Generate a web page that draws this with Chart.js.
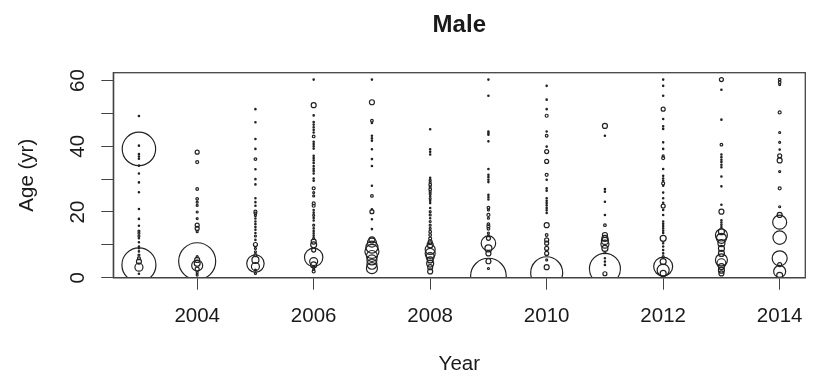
<!DOCTYPE html>
<html>
<head>
<meta charset="utf-8">
<script src="https://cdn.jsdelivr.net/npm/chart.js@4"></script>
<style>
  html, body { margin: 0; padding: 0; background: #fff; }
  #wrap { width: 825px; height: 377px; }
</style>
</head>
<body>
<div id="wrap"><canvas id="c" width="825" height="377"></canvas></div>
<script>
// Sampling years (one column of bubbles per year)
const years = [2003, 2004, 2005, 2006, 2007, 2008, 2009, 2010, 2011, 2012, 2013, 2014];

// Ages (yr) observed in each year, one row per year
const ageByYear = [
  [49.2, 40.2, 37.6, 36.9, 36.2, 39.2, 34.1, 31.7, 29.0, 26.0, 20.9, 17.9, 15.8, 14.2, 13.5, 12.7, 12.0, 10.8, 9.5, 9.0, 8.0, 6.9, 5.9, 4.9, 3.9, 3.2, 1.2],
  [38.2, 35.2, 27.0, 24.0, 23.0, 22.0, 20.0, 18.0, 16.0, 15.0, 14.0, 6.4, 5.0, 5.4, 4.4, 3.7, 2.6, 1.5, 0.8],
  [51.3, 47.3, 42.2, 39.2, 36.1, 33.0, 30.0, 28.4, 24.2, 23.0, 21.9, 20.1, 19.6, 18.9, 18.0, 17.1, 16.3, 15.4, 14.6, 13.6, 12.7, 11.5, 10.1, 8.9, 7.9, 6.9, 5.4, 4.3, 3.4, 2.3, 1.3],
  [60.3, 52.5, 49.4, 47.4, 46.6, 45.8, 45.0, 44.2, 43.0, 41.4, 40.7, 40.0, 39.3, 37.1, 36.4, 35.7, 34.9, 34.0, 33.2, 32.5, 31.7, 30.2, 29.5, 27.2, 25.9, 24.9, 22.6, 21.9, 20.6, 19.8, 19.0, 18.2, 17.4, 16.0, 15.0, 14.2, 13.5, 12.8, 12.0, 11.0, 10.0, 8.4, 6.2, 4.9, 3.9, 2.6, 1.9],
  [60.3, 53.4, 47.8, 47.1, 43.2, 42.4, 41.7, 39.1, 36.1, 34.0, 28.0, 24.9, 20.8, 20.1, 17.8, 14.8, 11.5, 10.7, 9.3, 8.0, 6.6, 5.4, 4.1, 2.9],
  [45.2, 39.1, 38.3, 37.5, 30.4, 29.7, 29.0, 28.3, 27.6, 26.9, 26.2, 25.5, 24.8, 24.1, 23.4, 22.7, 21.2, 20.1, 19.1, 18.1, 17.1, 16.0, 15.0, 14.0, 13.0, 11.9, 10.9, 10.0, 8.6, 7.4, 6.4, 5.4, 4.3, 3.2, 1.9],
  [60.3, 55.4, 44.5, 44.0, 43.5, 41.5, 33.1, 31.3, 30.6, 29.8, 29.1, 25.2, 24.5, 23.8, 21.3, 20.6, 19.1, 18.1, 16.3, 15.6, 14.9, 13.6, 12.8, 12.0, 10.5, 8.9, 7.4, 5.0, 2.8, 0.5],
  [58.4, 54.2, 51.3, 49.3, 44.5, 43.2, 39.9, 38.4, 35.4, 31.3, 29.8, 27.2, 26.5, 24.2, 23.4, 22.7, 22.0, 21.2, 20.5, 19.7, 16.0, 13.0, 11.5, 10.5, 8.9, 7.4, 5.4, 3.2, 1.5],
  [46.2, 43.2, 27.0, 26.2, 23.1, 19.1, 16.0, 13.0, 12.0, 11.2, 10.2, 8.9, 7.6, 5.9, 4.9, 3.9, 2.7, 1.2],
  [60.3, 58.4, 55.4, 51.3, 48.3, 46.1, 45.3, 41.2, 39.2, 37.1, 36.4, 33.1, 31.0, 30.2, 29.5, 28.7, 28.0, 25.9, 24.2, 22.8, 21.8, 20.6, 19.1, 17.1, 16.4, 15.7, 15.0, 14.3, 13.6, 12.0, 10.5, 9.5, 8.4, 7.4, 6.4, 4.9, 3.4, 2.3, 1.3],
  [60.3, 57.2, 48.1, 40.5, 37.5, 36.7, 35.9, 35.2, 34.4, 33.6, 30.8, 27.8, 22.2, 20.1, 17.5, 16.8, 16.1, 15.4, 14.0, 13.0, 12.0, 10.5, 8.9, 7.4, 5.4, 4.4, 3.4, 2.3, 1.3],
  [60.3, 59.5, 58.8, 50.3, 44.2, 41.2, 39.0, 37.1, 35.7, 32.3, 27.2, 21.6, 19.1, 16.9, 12.2, 5.9, 4.0, 1.9, 0.7]
];

// Number of fish at each age, same layout as ageByYear
const countByYear = [
  [2, 2, 2, 2, 2, 1116, 2, 2, 2, 2, 2, 2, 2, 4, 4, 4, 2, 2, 2, 2, 2, 4, 9, 25, 1156, 64, 2],
  [16, 9, 7, 7, 4, 4, 4, 4, 16, 16, 4, 4, 1369, 25, 36, 121, 16, 4, 4],
  [2, 2, 2, 2, 7, 2, 2, 2, 2, 2, 2, 9, 7, 4, 2, 2, 2, 2, 2, 2, 4, 2, 16, 4, 4, 9, 49, 303, 64, 4, 4],
  [2, 25, 2, 2, 2, 2, 2, 2, 7, 2, 2, 2, 2, 2, 2, 2, 2, 2, 2, 2, 2, 2, 2, 9, 4, 4, 9, 9, 2, 2, 4, 2, 2, 4, 2, 2, 2, 2, 4, 25, 36, 16, 340, 64, 36, 4, 9],
  [2, 25, 7, 2, 2, 2, 2, 2, 2, 2, 2, 7, 2, 16, 2, 2, 36, 81, 144, 196, 121, 100, 100, 121],
  [2, 2, 2, 2, 2, 4, 4, 7, 4, 7, 4, 4, 2, 4, 2, 2, 2, 4, 4, 2, 4, 4, 4, 7, 7, 9, 16, 36, 100, 100, 64, 36, 49, 25, 25],
  [2, 2, 2, 2, 2, 2, 2, 2, 2, 2, 2, 2, 2, 2, 7, 4, 9, 4, 7, 9, 7, 4, 4, 16, 210, 49, 25, 25, 4, 1267],
  [2, 2, 2, 9, 2, 7, 2, 16, 16, 9, 2, 2, 2, 2, 2, 2, 2, 2, 2, 2, 25, 7, 16, 16, 16, 16, 4, 25, 1024],
  [25, 2, 2, 2, 2, 2, 7, 25, 36, 49, 64, 36, 4, 2, 2, 2, 961, 16],
  [2, 2, 2, 16, 2, 2, 2, 2, 2, 4, 9, 2, 2, 2, 2, 9, 2, 2, 2, 2, 16, 2, 2, 2, 2, 2, 2, 2, 2, 36, 2, 2, 2, 2, 4, 36, 361, 144, 36],
  [16, 2, 2, 7, 2, 2, 2, 2, 2, 2, 2, 2, 2, 25, 2, 2, 2, 2, 36, 144, 100, 49, 36, 36, 144, 81, 36, 36, 25],
  [7, 7, 4, 9, 4, 4, 2, 16, 25, 4, 9, 4, 25, 196, 180, 225, 16, 144, 36]
];

// Axis ticks
const xTicks = [2004, 2006, 2008, 2010, 2012, 2014];
const yTicks = [0, 10, 20, 30, 40, 50, 60];
const yLabels = [0, 20, 40, 60];

// Circle area proportional to count
const RADIUS_PER_SQRT_COUNT = 0.5;

const points = [];
years.forEach((yr, i) => {
  ageByYear[i].forEach((age, j) => {
    points.push({ x: yr, y: age, r: RADIUS_PER_SQRT_COUNT * Math.sqrt(countByYear[i][j]) });
  });
});

const FONT = 'Liberation Sans, Arial, Helvetica, sans-serif';
const INK = '#1a1a1a';
const AXIS = '#444';

// Box around the plot, rotated y labels and the main title
const decorations = {
  id: 'decorations',
  afterDraw(chart) {
    const { ctx, chartArea: a, scales } = chart;
    ctx.save();
    ctx.strokeStyle = AXIS;
    ctx.lineWidth = 1.3;
    ctx.strokeRect(a.left, a.top, a.right - a.left, a.bottom - a.top);

    ctx.fillStyle = INK;
    ctx.font = '20.5px ' + FONT;
    ctx.textAlign = 'center';
    ctx.textBaseline = 'alphabetic';
    yLabels.forEach(v => {
      const py = scales.y.getPixelForValue(v);
      ctx.save();
      ctx.translate(a.left - 29, py);
      ctx.rotate(-Math.PI / 2);
      ctx.fillText(String(v), 0, 0);
      ctx.restore();
    });

    ctx.font = 'bold 24px ' + FONT;
    ctx.fillText('Male', (a.left + a.right) / 2, 32.3);
    ctx.restore();
  }
};

new Chart(document.getElementById('c'), {
  type: 'bubble',
  data: {
    datasets: [{
      data: points,
      backgroundColor: 'rgba(0,0,0,0)',
      borderColor: '#222',
      borderWidth: 1.2,
      clip: 0
    }]
  },
  options: {
    responsive: false,
    animation: false,
    devicePixelRatio: 1,
    events: [],
    layout: { padding: { top: 72.7, right: 2, left: 0, bottom: 0 } },
    plugins: {
      legend: { display: false },
      tooltip: { enabled: false },
      title: { display: false }
    },
    scales: {
      x: {
        type: 'linear',
        min: 2002.56,
        max: 2014.44,
        afterBuildTicks: s => { s.ticks = xTicks.map(v => ({ value: v })); },
        afterFit: s => { s.height = 99.3; },
        grid: { drawOnChartArea: false, drawTicks: true, tickLength: 12, color: AXIS, lineWidth: 1 },
        border: { display: true, color: AXIS, width: 1.3 },
        ticks: {
          padding: 14,
          autoSkip: false,
          maxRotation: 0,
          color: INK,
          font: { family: FONT, size: 20.5 },
          callback: v => String(v)
        },
        title: {
          display: true,
          text: 'Year',
          color: INK,
          font: { family: FONT, size: 20.5 },
          padding: { top: 0, bottom: 0 }
        }
      },
      y: {
        type: 'linear',
        min: 0,
        max: 62.4,
        afterBuildTicks: s => { s.ticks = yTicks.map(v => ({ value: v })); },
        afterFit: s => { s.width = 113.3; },
        grid: { drawOnChartArea: false, drawTicks: true, tickLength: 12, color: AXIS, lineWidth: 1 },
        border: { display: true, color: AXIS, width: 1.3 },
        ticks: { display: false },
        title: {
          display: true,
          text: 'Age (yr)',
          color: INK,
          font: { family: FONT, size: 20.5 },
          padding: { top: 14.6, bottom: 0 }
        }
      }
    }
  },
  plugins: [decorations]
});
</script>
</body>
</html>
